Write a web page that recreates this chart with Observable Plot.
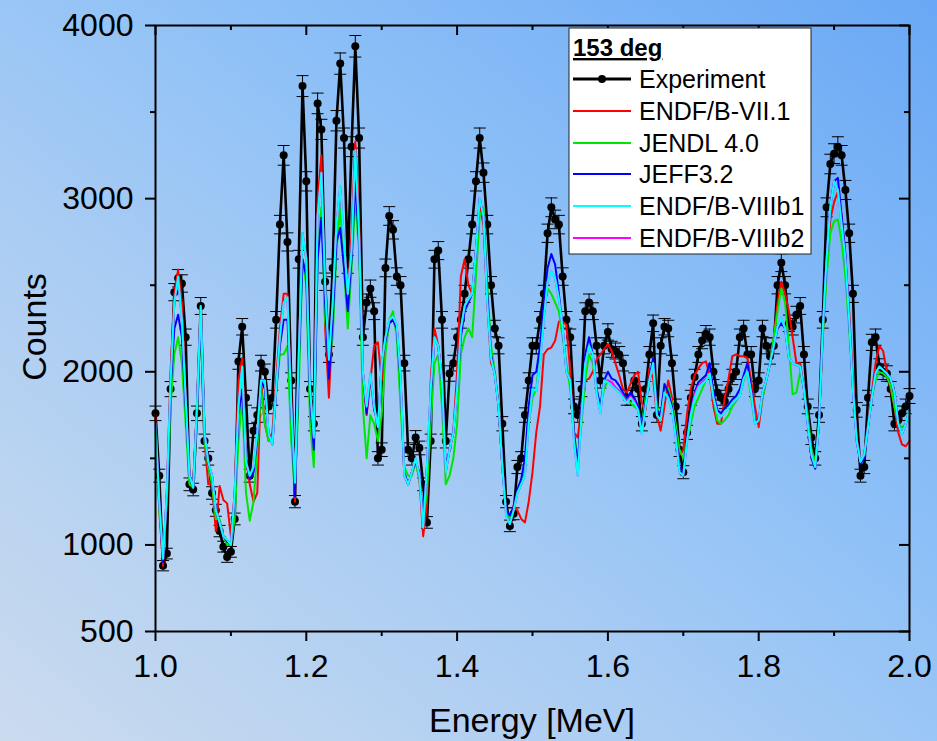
<!DOCTYPE html>
<html>
<head>
<meta charset="utf-8">
<script src="https://cdn.jsdelivr.net/npm/d3@7"></script>
<script src="https://cdn.jsdelivr.net/npm/@observablehq/plot@0.6"></script>
<style>
html, body { margin: 0; padding: 0; }
body { width: 937px; height: 741px; overflow: hidden; }
#wrap {
  position: relative; width: 937px; height: 741px;
  background: linear-gradient(to top right, #cbdbee 0%, #abcdf3 35%, #8dc0f7 62%, #6aa8f5 100%);
  font-family: "Liberation Sans", Arial, sans-serif;
}
#wrap svg { position: absolute; left: 0; top: 0; }
</style>
</head>
<body>
<div id="wrap"></div>
<script>
// ---------- data ----------
const energyStart = 1.0, energyStep = 0.005, energyCount = 201;

const expCounts = [
1760,1400,880,950,1900,2460,2540,2510,2200,1350,
1320,1760,2380,1600,1500,1300,1200,1080,990,930,
960,1150,2060,2260,1850,1400,1660,1750,2050,2000,
1800,1850,2300,2850,3250,2750,1950,1250,2650,3650,
3100,1900,1700,3550,3400,2520,2100,2600,3450,3780,
3350,2620,3300,3880,3350,2200,2400,2480,2350,1500,
1550,2600,2900,2820,2550,2500,2050,1550,1500,1620,
1560,1350,1130,1600,2650,2700,2300,1600,1990,2050,
2200,2300,2450,2650,2850,3100,3350,3150,2850,2500,
2250,2150,1700,1250,1110,1180,1450,1500,1750,1950,
2150,2150,2300,2450,2800,2950,2880,2850,2550,2300,
2200,1800,1750,1900,2350,2400,2350,2150,1950,2150,
2230,2130,2120,2100,2050,1850,1850,1950,1900,1700,
1900,2100,2280,1750,2150,2260,2250,2050,1800,1550,
1420,1650,1850,1970,2100,2180,2220,2200,2000,1880,
1850,1830,1900,1970,2000,2200,2250,2100,2100,1900,
1950,2250,2150,2090,2150,2500,2630,2500,2280,2260,
2330,2380,2100,1800,1620,1500,1750,2300,2950,3200,
3260,3300,3250,3050,2800,2450,1780,1400,1450,1850,
2170,2200,2030,2000,1990,1900,1700,1720,1760,1800,
1860];

const endf71 = [
1750,1200,880,1300,2000,2450,2590,2400,1850,1380,
1350,1800,2380,1600,1350,1350,1080,1340,1260,1240,
1050,1300,1950,2080,1500,1350,1250,1300,1950,1700,
1600,1650,1950,2250,2450,2450,1850,1250,2100,2800,
2650,1900,1600,3000,3250,2250,1850,2300,2850,3050,
2700,2450,2800,3330,2900,2000,1750,1950,2150,2170,
1950,2150,2280,2300,2250,1950,1400,1350,1420,1480,
1380,1050,1230,1950,2250,2150,1950,1420,1550,1650,
2000,2550,2650,2500,2450,2700,2950,2850,2400,2050,
2000,1800,1450,1200,1150,1230,1200,1150,1130,1250,
1420,1650,1800,2100,2130,2140,2180,2290,2290,2270,
2000,1650,1620,1800,1950,1960,2000,2070,2100,2130,
2160,2120,2050,1980,1900,1880,1930,1980,2000,1820,
1780,2020,1960,1750,1660,1800,1950,1850,1660,1520,
1550,1760,1900,1980,2020,2050,2060,1980,1800,1700,
1700,1850,1960,2090,2100,2090,2090,2080,1950,1800,
1680,1850,1950,2050,2200,2400,2520,2450,2350,2200,
2050,2050,1900,1720,1500,1460,1720,2200,2600,2880,
2980,3040,2900,2650,2350,1950,1620,1480,1520,1700,
1880,2050,2150,2120,2000,1900,1800,1650,1580,1570,
1600];

const jendl40 = [
1650,1200,950,1250,1800,2100,2200,2050,1700,1350,
1330,1750,2300,1600,1450,1350,1150,1150,1050,1000,
1000,1150,1600,1850,1300,1140,1250,1550,1900,1700,
1600,1600,1900,2100,2100,2150,1600,1300,1900,2650,
2500,1700,1450,2700,2950,2300,2050,2200,2700,2950,
2600,2250,2600,3000,2700,1800,1500,1750,1700,1600,
1750,2100,2300,2350,2200,1800,1450,1400,1400,1480,
1380,1150,1300,1700,2050,2100,1800,1350,1400,1500,
1700,2100,2200,2250,2200,2550,2900,2950,2500,2150,
2000,1800,1450,1200,1150,1200,1300,1350,1450,1700,
1850,1900,2100,2350,2480,2450,2400,2350,2200,2050,
1900,1650,1500,1700,1950,2100,2050,1900,1800,1900,
1950,1920,1900,1880,1860,1850,1820,1800,1780,1700,
1850,1950,2050,1800,1750,1900,1900,1820,1700,1550,
1500,1600,1700,1800,1850,1900,1950,1980,1850,1720,
1700,1720,1750,1800,1830,1860,1950,2000,1850,1700,
1720,1850,1950,2050,2200,2350,2480,2400,2150,1870,
1880,2000,1900,1750,1550,1480,1700,2200,2550,2800,
2870,2880,2750,2550,2250,1900,1600,1480,1520,1680,
1850,1950,2000,1990,1970,1920,1800,1700,1680,1700,
1780];

const jeff32 = [
1700,1250,900,1280,1900,2250,2330,2200,1800,1400,
1330,1780,2330,1650,1470,1400,1200,1130,1050,1020,
1000,1280,1750,1900,1500,1380,1420,1620,1950,1900,
1640,1580,1880,2150,2300,2300,1800,1280,2050,2650,
2550,1850,1550,2650,2890,2400,1960,2300,2750,2830,
2600,2350,2650,3100,2750,2000,1760,1980,1780,1700,
2050,2180,2280,2300,2250,1950,1420,1350,1420,1480,
1420,1150,1450,1850,2200,2150,1950,1450,1550,1650,
1900,2200,2350,2400,2450,2700,3000,2900,2450,2100,
1980,1800,1450,1200,1170,1220,1320,1380,1500,1800,
1980,2000,2150,2400,2600,2680,2620,2450,2250,2000,
1950,1650,1450,1800,2100,2200,2100,1900,1800,1950,
2000,1960,1950,1920,1880,1850,1880,1850,1800,1680,
1820,1960,2080,1780,1750,1930,1880,1800,1650,1450,
1420,1620,1780,1880,1940,1960,1980,2050,1880,1780,
1760,1790,1810,1840,1860,1900,1980,2050,1900,1720,
1720,1880,1950,2050,2150,2250,2280,2250,2080,2050,
2040,2030,1900,1700,1500,1440,1700,2250,2650,2960,
3100,3120,2900,2680,2300,1900,1600,1470,1500,1680,
1850,1990,2030,2010,1990,1960,1880,1700,1640,1700,
1780];

const endf8b1 = [
1700,1250,920,1300,1950,2400,2550,2300,1850,1400,
1330,1800,2380,1650,1480,1400,1200,1130,1050,1030,
1000,1300,1800,2030,1480,1400,1450,1650,1950,1950,
1640,1580,1900,2200,2400,2430,1800,1360,2100,2800,
2650,1900,1620,2900,3150,2500,2070,2400,2850,3070,
2750,2450,2700,3280,2800,2000,1800,1990,1800,1680,
2050,2200,2300,2320,2270,1980,1400,1350,1420,1500,
1400,1100,1450,1900,2200,2150,1950,1420,1550,1650,
1900,2250,2380,2420,2450,2700,3000,2900,2400,2080,
1980,1800,1450,1170,1120,1200,1300,1350,1400,1700,
1900,1890,2050,2300,2520,2580,2540,2420,2250,2000,
1950,1600,1400,1750,2050,2150,2100,1880,1760,1950,
1940,1920,1900,1880,1850,1820,1850,1820,1780,1640,
1800,1950,2050,1750,1720,1880,1850,1780,1620,1420,
1400,1600,1750,1850,1910,1930,1950,1990,1850,1760,
1740,1770,1790,1820,1840,1860,1960,2000,1880,1700,
1720,1880,1950,2050,2150,2260,2310,2250,2080,2050,
2040,2030,1900,1700,1520,1450,1700,2250,2650,2950,
3100,3050,2850,2650,2300,1900,1600,1480,1520,1680,
1850,1990,2030,2010,1990,1960,1880,1700,1640,1700,
1780];

const endf8b2 = [
1700,1250,920,1300,1950,2400,2540,2300,1850,1400,
1330,1800,2370,1650,1480,1400,1200,1130,1050,1030,
1000,1300,1800,2030,1480,1400,1450,1650,1950,1950,
1640,1580,1900,2200,2400,2430,1800,1360,2100,2800,
2650,1900,1620,2900,3150,2500,2070,2400,2850,3070,
2750,2450,2700,3280,2800,2000,1800,1990,1800,1680,
2050,2200,2300,2320,2270,1980,1400,1350,1420,1500,
1400,1100,1450,1900,2200,2150,1950,1420,1550,1650,
1900,2250,2380,2420,2450,2700,3000,2900,2400,2080,
1980,1800,1450,1170,1120,1200,1300,1350,1400,1700,
1900,1890,2050,2300,2520,2580,2540,2420,2250,2000,
1950,1600,1400,1750,2050,2150,2100,1880,1760,1950,
1950,1940,1910,1890,1860,1830,1860,1830,1780,1640,
1800,1950,2050,1750,1720,1880,1850,1780,1620,1420,
1400,1600,1760,1870,1920,1940,1960,1990,1850,1760,
1740,1770,1790,1820,1840,1860,1960,2000,1880,1700,
1720,1880,1950,2050,2150,2260,2310,2250,2080,2050,
2040,2030,1900,1700,1520,1450,1700,2250,2650,2950,
3100,3050,2850,2650,2300,1900,1600,1480,1520,1680,
1850,1990,2030,2010,1990,1960,1880,1700,1640,1700,
1780];

const seriesNames  = ["Experiment", "ENDF/B-VII.1", "JENDL 4.0", "JEFF3.2", "ENDF/B-VIIIb1", "ENDF/B-VIIIb2"];
const seriesColors = ["#000000", "#ff0000", "#00e600", "#0000ff", "#00ffff", "#ff00ff"];
const legendTitle = "153 deg";

const xMajorTicks = [1.0, 1.2, 1.4, 1.6, 1.8, 2.0];
const xMinorTicks = [1.1, 1.3, 1.5, 1.7, 1.9];
const yMajorTicks = [500, 1000, 2000, 3000, 4000];
const yMinorTicks = [1500, 2500, 3500];
const xTitle = "Energy [MeV]";
const yTitle = "Counts";

// ---------- build tables ----------
const energy = d3.range(energyCount).map(i => +(energyStart + i * energyStep).toFixed(3));
const expRows = energy.map((e, i) => {
  const c = expCounts[i], err = Math.sqrt(c);
  return {e, c, lo: c - err, hi: c + err};
});
const modelArrays = [endf71, jendl40, jeff32, endf8b2, endf8b1];
const modelColors = [seriesColors[1], seriesColors[2], seriesColors[3], seriesColors[5], seriesColors[4]];
const modelRows = modelArrays.map(arr => energy.map((e, i) => ({e, v: arr[i]})));

// ---------- layout ----------
const W = 937, H = 741, mL = 155, mR = 28, mT = 25, mB = 110;
const plotW = W - mL - mR, plotH = H - mT - mB;
const majorLen = 10, minorLen = 5;

const capSymbol = {
  draw(ctx, size) {
    const w = Math.sqrt(size / Math.PI);
    ctx.moveTo(-w, 0); ctx.lineTo(w, 0);
  }
};

const tickStyle = {stroke: "black", strokeWidth: 2};

const chart = Plot.plot({
  width: W, height: H,
  marginLeft: mL, marginRight: mR, marginTop: mT, marginBottom: mB,
  style: {background: "transparent", fontFamily: "'Liberation Sans', Arial, sans-serif", overflow: "visible"},
  x: {domain: [1.0, 2.0], label: null},
  y: {domain: [500, 4000], label: null},
  marks: [
    // experiment
    Plot.ruleX(expRows, {x: "e", y1: "lo", y2: "hi", stroke: "black", strokeWidth: 1}),
    Plot.dot(expRows, {x: "e", y: "hi", symbol: capSymbol, r: 6, stroke: "black", strokeWidth: 1, fill: "none"}),
    Plot.dot(expRows, {x: "e", y: "lo", symbol: capSymbol, r: 6, stroke: "black", strokeWidth: 1, fill: "none"}),
    Plot.line(expRows, {x: "e", y: "c", stroke: seriesColors[0], strokeWidth: 2.6}),
    Plot.dot(expRows, {x: "e", y: "c", r: 4, fill: seriesColors[0], stroke: "none"}),
    // models
    ...modelRows.map((rows, k) => Plot.line(rows, {x: "e", y: "v", stroke: modelColors[k], strokeWidth: 2})),
    // frame
    Plot.frame({stroke: "black", strokeWidth: 2}),
    // ticks: bottom/left outward, top/right inward
    Plot.tickX(xMajorTicks, {x: d => d, insetTop: plotH, insetBottom: -majorLen, ...tickStyle}),
    Plot.tickX(xMinorTicks, {x: d => d, insetTop: plotH, insetBottom: -minorLen, ...tickStyle}),
    Plot.tickX(xMajorTicks, {x: d => d, insetBottom: plotH - majorLen, ...tickStyle}),
    Plot.tickX(xMinorTicks, {x: d => d, insetBottom: plotH - minorLen, ...tickStyle}),
    Plot.tickY(yMajorTicks, {y: d => d, insetRight: plotW, insetLeft: -majorLen, ...tickStyle}),
    Plot.tickY(yMinorTicks, {y: d => d, insetRight: plotW, insetLeft: -minorLen, ...tickStyle}),
    Plot.tickY(yMajorTicks, {y: d => d, insetLeft: plotW - majorLen, ...tickStyle}),
    Plot.tickY(yMinorTicks, {y: d => d, insetLeft: plotW - minorLen, ...tickStyle}),
    // tick labels
    Plot.axisX(xMajorTicks, {tickSize: 0, tickPadding: 23, fontSize: 32, tickFormat: d3.format(".1f"), fill: "black", label: null}),
    Plot.axisY(yMajorTicks, {tickSize: 0, tickPadding: 22, fontSize: 32, tickFormat: d => String(d), fill: "black", label: null})
  ]
});

const wrap = document.getElementById("wrap");
wrap.appendChild(chart);

// ---------- overlay: axis titles + legend ----------
const ov = d3.select(wrap).append("svg")
  .attr("width", W).attr("height", H)
  .style("font-family", "'Liberation Sans', Arial, sans-serif");

ov.append("text").attr("x", 532).attr("y", 732).attr("text-anchor", "middle")
  .attr("font-size", 34).attr("fill", "black").text(xTitle);
ov.append("text").attr("transform", "translate(46,327) rotate(-90)").attr("text-anchor", "middle")
  .attr("font-size", 34).attr("fill", "black").text(yTitle);

const lg = ov.append("g").attr("transform", "translate(569,28)");
lg.append("rect").attr("x", 0).attr("y", 0).attr("width", 242).attr("height", 226)
  .attr("fill", "white").attr("stroke", "#222").attr("stroke-width", 1);
lg.append("text").attr("x", 4).attr("y", 28).attr("font-size", 24).attr("font-weight", "bold")
  .attr("text-decoration", "underline").attr("fill", "black").text(legendTitle);
const baselines = [60, 92, 124, 155, 187, 219];
seriesNames.forEach((name, i) => {
  const yb = baselines[i], yl = yb - 9;
  lg.append("line").attr("x1", 4).attr("x2", 62).attr("y1", yl).attr("y2", yl)
    .attr("stroke", seriesColors[i]).attr("stroke-width", i === 0 ? 3 : 2.2);
  if (i === 0) lg.append("circle").attr("cx", 33).attr("cy", yl).attr("r", 4).attr("fill", "black");
  lg.append("text").attr("x", 70).attr("y", yb).attr("font-size", 25).attr("fill", "black").text(name);
});
</script>
</body>
</html>
